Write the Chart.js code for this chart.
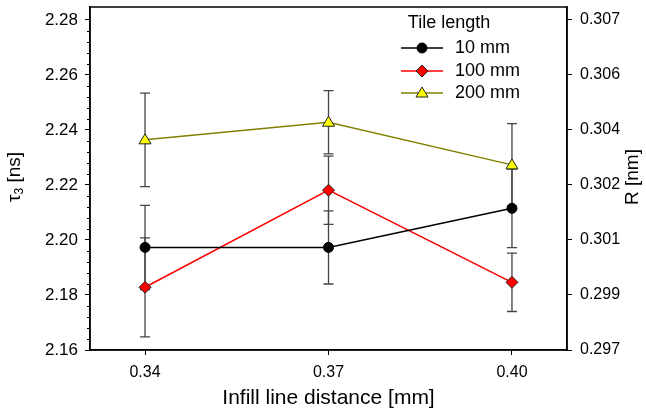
<!DOCTYPE html>
<html>
<head>
<meta charset="utf-8">
<script src="https://cdn.jsdelivr.net/npm/chart.js@4/dist/chart.umd.min.js"></script>
<style>
  html, body { margin: 0; padding: 0; background: #fff; }
  #wrap { width: 646px; height: 414px; }
</style>
</head>
<body>
<div id="wrap"><canvas id="chart" width="646" height="414"></canvas></div>
<script>
// infill line distance [mm]
const xValues = [0.34, 0.37, 0.40];

// tau3 [ns] and its error for each tile length
const tau10 = [2.1973, 2.1973, 2.2115];
const err10 = [0.0153, 0.0133, 0.0143];
const tau100 = [2.1828, 2.2181, 2.1846];
const err100 = [0.018, 0.0124, 0.0106];
const tau200 = [2.2364, 2.2428, 2.2273];
const err200 = [0.017, 0.0115, 0.015];

const seriesNames = ['10 mm', '100 mm', '200 mm'];

// axis ticks
const xTicks = [0.34, 0.37, 0.40];
const tauTicks = [2.16, 2.18, 2.20, 2.22, 2.24, 2.26, 2.28];
const rLabels = ['0.297', '0.299', '0.301', '0.302', '0.304', '0.306', '0.307'];

const FONT = '"Liberation Sans", Arial, sans-serif';

function drawMarker(ctx, style, x, y, fill) {
  ctx.save();
  ctx.fillStyle = fill;
  ctx.strokeStyle = style === 'circle' ? '#000' : '#222';
  ctx.lineWidth = 1;
  ctx.beginPath();
  if (style === 'circle') {
    ctx.arc(x, y, 5, 0, Math.PI * 2);
  } else if (style === 'diamond') {
    ctx.moveTo(x, y - 6); ctx.lineTo(x + 6, y); ctx.lineTo(x, y + 6); ctx.lineTo(x - 6, y);
    ctx.closePath();
  } else {
    ctx.moveTo(x, y - 6); ctx.lineTo(x + 6, y + 4); ctx.lineTo(x - 6, y + 4);
    ctx.closePath();
  }
  ctx.fill();
  ctx.stroke();
  ctx.restore();
}

const markerStyles = ['circle', 'diamond', 'triangle'];
const markerFills = ['#000000', '#ff0000', '#ffff00'];
const lineColors = ['#000000', '#ff0000', '#808000'];
const errors = [err10, err100, err200];

const errorBars = {
  id: 'errorBars',
  beforeDatasetsDraw(chart) {
    const ctx = chart.ctx;
    const xs = chart.scales.x, ys = chart.scales.y;
    ctx.save();
    ctx.strokeStyle = '#444';
    ctx.lineWidth = 1.3;
    chart.data.datasets.forEach((ds, i) => {
      ds.data.forEach((p, j) => {
        const x = xs.getPixelForValue(p.x);
        const top = ys.getPixelForValue(p.y + errors[i][j]);
        const bot = ys.getPixelForValue(p.y - errors[i][j]);
        ctx.beginPath();
        ctx.moveTo(x, top); ctx.lineTo(x, bot);
        ctx.moveTo(x - 5, top); ctx.lineTo(x + 5, top);
        ctx.moveTo(x - 5, bot); ctx.lineTo(x + 5, bot);
        ctx.stroke();
      });
    });
    ctx.restore();
  },
  afterDatasetsDraw(chart) {
    const ctx = chart.ctx;
    const xs = chart.scales.x, ys = chart.scales.y;
    chart.data.datasets.forEach((ds, i) => {
      ds.data.forEach(p => {
        drawMarker(ctx, markerStyles[i], xs.getPixelForValue(p.x), ys.getPixelForValue(p.y), markerFills[i]);
      });
    });
  }
};

const frame = {
  id: 'frame',
  afterDraw(chart) {
    const ctx = chart.ctx;
    const a = chart.chartArea;
    const ys = chart.scales.y;
    ctx.save();
    ctx.strokeStyle = '#000';
    ctx.lineWidth = 1.5;
    ctx.strokeRect(a.left, a.top, a.right - a.left, a.bottom - a.top);

    // minor ticks on left axis
    ctx.lineWidth = 1;
    for (let k = 0; k <= 30; k++) {
      if (k % 5 === 0) continue;
      const y = Math.round(ys.getPixelForValue(2.16 + k * 0.004)) + 0.5;
      ctx.beginPath();
      ctx.moveTo(a.left - 3, y); ctx.lineTo(a.left, y);
      ctx.stroke();
    }

    // y titles
    ctx.fillStyle = '#000';
    ctx.textBaseline = 'middle';
    ctx.save();
    ctx.translate(15, 177);
    ctx.rotate(-Math.PI / 2);
    ctx.font = '19px ' + FONT;
    const w1 = ctx.measureText('\u03c4').width;
    ctx.font = '12px ' + FONT;
    const w2 = ctx.measureText('3').width;
    ctx.font = '19px ' + FONT;
    const w3 = ctx.measureText(' [ns]').width;
    let x0 = -(w1 + w2 + w3) / 2;
    ctx.textAlign = 'left';
    ctx.fillText('\u03c4', x0, 0);
    ctx.font = '12px ' + FONT;
    ctx.fillText('3', x0 + w1, 5);
    ctx.font = '19px ' + FONT;
    ctx.fillText(' [ns]', x0 + w1 + w2, 0);
    ctx.restore();

    ctx.save();
    ctx.translate(633, 177);
    ctx.rotate(-Math.PI / 2);
    ctx.font = '19px ' + FONT;
    ctx.textAlign = 'center';
    ctx.fillText('R [nm]', 0, 0);
    ctx.restore();

    // legend
    ctx.textAlign = 'center';
    ctx.font = '18px ' + FONT;
    ctx.fillText('Tile length', 449, 23);
    ctx.textAlign = 'left';
    [48, 71, 93].forEach((y, i) => {
      ctx.strokeStyle = lineColors[i];
      ctx.lineWidth = 1.5;
      ctx.beginPath();
      ctx.moveTo(401, y); ctx.lineTo(443, y);
      ctx.stroke();
      drawMarker(ctx, markerStyles[i], 422, y, markerFills[i]);
      ctx.fillStyle = '#000';
      ctx.fillText(seriesNames[i], 455, y);
    });
    ctx.restore();
  }
};

const toPoints = (ys) => ys.map((v, i) => ({ x: xValues[i], y: v }));

new Chart(document.getElementById('chart'), {
  type: 'line',
  data: {
    datasets: [tau10, tau100, tau200].map((d, i) => ({
      label: seriesNames[i],
      data: toPoints(d),
      borderColor: lineColors[i],
      borderWidth: 1.5,
      pointRadius: 0,
      fill: false,
      tension: 0
    }))
  },
  options: {
    responsive: false,
    animation: false,
    layout: { autoPadding: false, padding: { top: 7, left: 0, right: 0, bottom: 0 } },
    plugins: { legend: { display: false }, tooltip: { enabled: false } },
    scales: {
      x: {
        type: 'linear',
        position: 'bottom',
        min: 0.331,
        max: 0.409,
        afterFit: s => { s.height = 64; s.paddingLeft = 0; s.paddingRight = 0; },
        afterBuildTicks: s => { s.ticks = xTicks.map(v => ({ value: v })); },
        grid: { drawOnChartArea: false, tickLength: 5, color: '#000' },
        border: { color: '#000', width: 1.5 },
        ticks: {
          color: '#000', font: { family: FONT, size: 16 }, padding: 8, maxRotation: 0,
          callback: v => v.toFixed(2)
        },
        title: {
          display: true, text: 'Infill line distance [mm]', color: '#000',
          font: { family: FONT, size: 21 }, padding: { top: 0, bottom: 3 }
        }
      },
      y: {
        position: 'left',
        min: 2.16,
        max: 2.2847,
        afterFit: s => { s.width = 90; s.paddingTop = 0; s.paddingBottom = 0; },
        afterBuildTicks: s => { s.ticks = tauTicks.map(v => ({ value: v })); },
        grid: { drawOnChartArea: false, tickLength: 5, color: '#000' },
        border: { color: '#000', width: 1.5 },
        ticks: { color: '#000', font: { family: FONT, size: 17 }, padding: 7, callback: v => v.toFixed(2) }
      },
      y2: {
        position: 'right',
        min: 2.16,
        max: 2.2847,
        afterFit: s => { s.width = 79; s.paddingTop = 0; s.paddingBottom = 0; },
        afterBuildTicks: s => { s.ticks = tauTicks.map(v => ({ value: v })); },
        grid: { drawOnChartArea: false, tickLength: 5, color: '#000' },
        border: { color: '#000', width: 1.5 },
        ticks: {
          color: '#000', font: { family: FONT, size: 16 }, padding: 8,
          callback: (v, i) => rLabels[i]
        }
      }
    }
  },
  plugins: [errorBars, frame]
});
</script>
</body>
</html>
